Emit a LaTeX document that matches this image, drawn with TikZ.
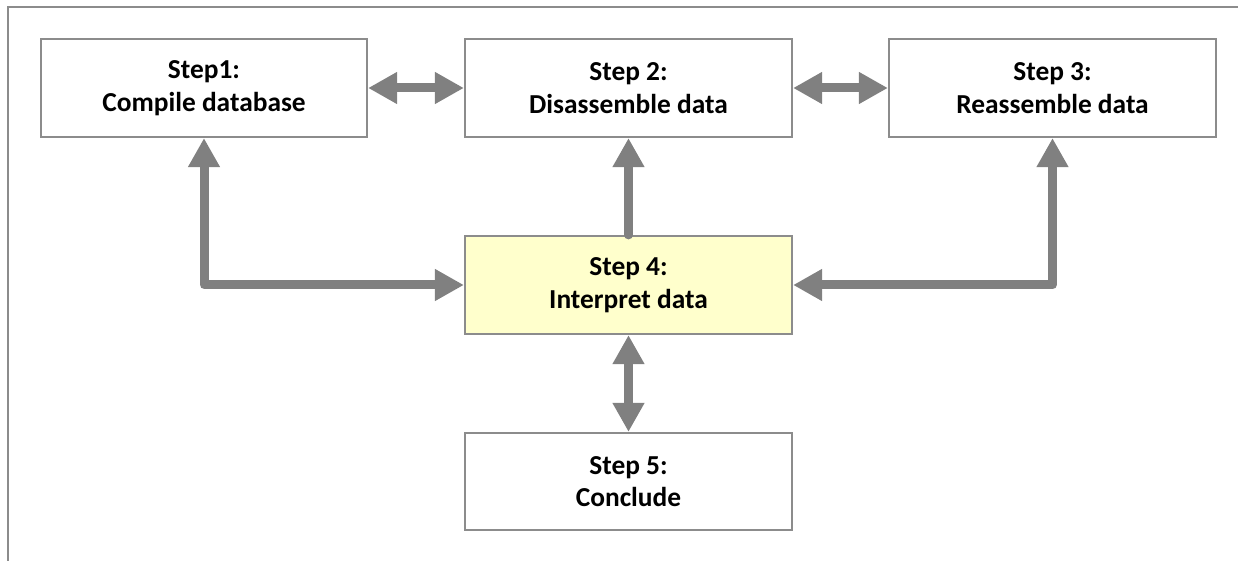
\documentclass[tikz,border=0pt]{standalone}
\usepackage{fontspec}
\setmainfont{Carlito}
\usetikzlibrary{arrows.meta}
\definecolor{arrowgray}{HTML}{808080}
\definecolor{boxgray}{HTML}{8C8C8C}
\definecolor{paleyellow}{HTML}{FFFFCC}
\tikzset{
  stepbox/.style={draw=boxgray, line width=2.2pt, fill=white, minimum height=98pt,
    minimum width=327pt, inner sep=0pt, align=center,
    font=\fontsize{27.4pt}{32.5pt}\selectfont\bfseries},
  conn/.style={draw=arrowgray, line width=9pt, line join=round, line cap=round},
  tipA/.tip={Triangle[length=29pt 0 0, width=30pt 0 0]},
}
\begin{document}
\begin{tikzpicture}[x=1pt, y=1pt]
\useasboundingbox (0,0) rectangle (1247,-561);
\fill[white] (0,0) rectangle (1247,-561);
% frame
\draw[boxgray, line width=2.4pt] (8,-561) -- (8,-7) -- (1238,-7);
% nodes
\node[stepbox, minimum width=326pt] (s1) at (204,-88) {Step1:\\Compile database};
\node[stepbox] (s2) at (628.5,-88) {Step 2:\\Disassemble data};
\node[stepbox] (s3) at (1052.5,-88) {Step 3:\\Reassemble data};
\node[stepbox, fill=paleyellow] (s4) at (628.5,-285) {Step 4:\\Interpret data};
\node[stepbox, minimum height=97pt] (s5) at (628.5,-481.5) {Step 5:\\Conclude};
% connectors
\draw[conn, line cap=butt, {tipA}-{tipA}] (s1.east) -- (s2.west);
\draw[conn, line cap=butt, {tipA}-{tipA}] (s2.east) -- (s3.west);
\draw[conn, -{tipA}] (s4.north) -- (s2.south);
\draw[conn, line cap=butt, {tipA}-{tipA}] (s1.south) |- (s4.west);
\draw[conn, line cap=butt, {tipA}-{tipA}] (s3.south) |- (s4.east);
\draw[conn, line cap=butt, {tipA}-{tipA}] (s4.south) -- (s5.north);
\end{tikzpicture}
\end{document}
